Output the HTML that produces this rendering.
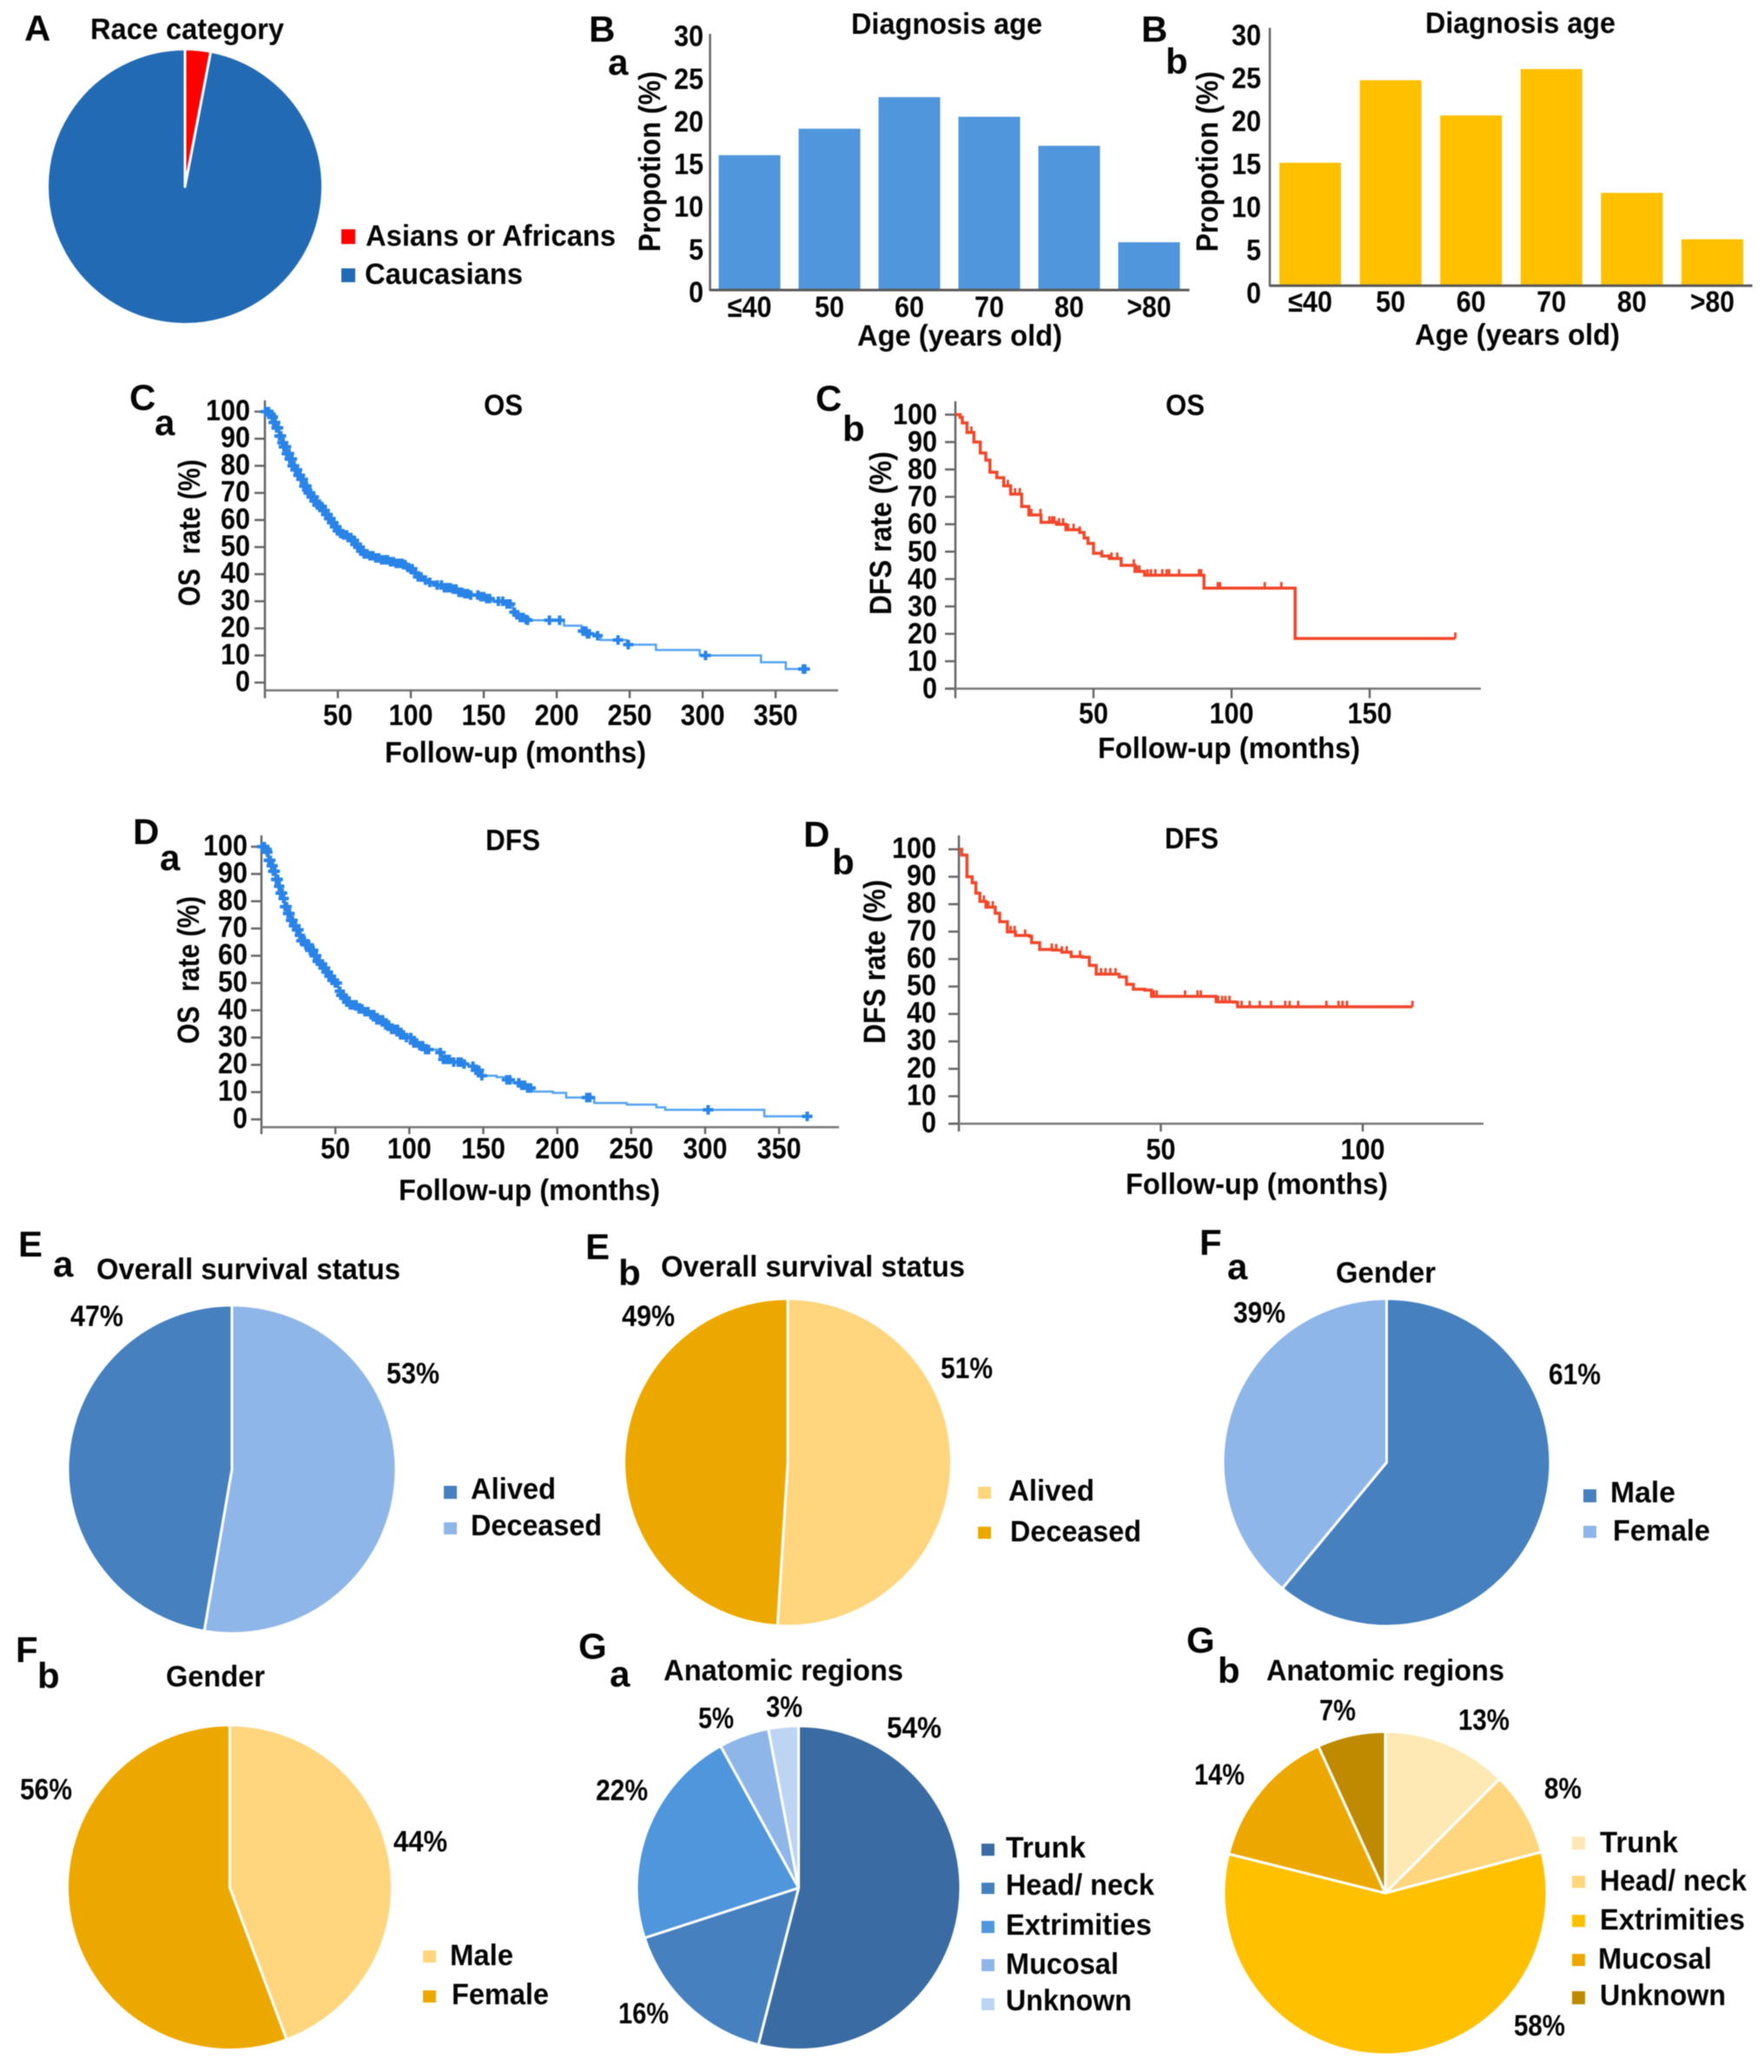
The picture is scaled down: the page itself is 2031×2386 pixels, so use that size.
<!DOCTYPE html>
<html lang="en">
<head>
<meta charset="utf-8">
<title>Clinical characteristics figure</title>
<style>
html,body{margin:0;padding:0;background:#fff;}
svg{display:block;filter:blur(0.6px);}
text{font-family:"Liberation Sans",sans-serif;font-weight:bold;font-size:34px;fill:#050505;}
.p{font-size:42px;}
.r{font-size:35px;}
</style>
</head>
<body>
<svg id="figure" xmlns="http://www.w3.org/2000/svg" width="2031" height="2386" viewBox="0 0 2031 2386">
<rect x="0" y="0" width="2031" height="2386" fill="#ffffff"/>

<g>
<text class="p" x="28" y="47">A</text>
<text class="p" x="678" y="48">B</text>
<text class="p" x="700" y="86">a</text>
<text class="p" x="1314" y="48">B</text>
<text class="p" x="1342" y="85">b</text>
<text class="p" x="149" y="472">C</text>
<text class="p" x="178" y="501">a</text>
<text class="p" x="939" y="473">C</text>
<text class="p" x="970" y="508">b</text>
<text class="p" x="153" y="972">D</text>
<text class="p" x="184" y="1002">a</text>
<text class="p" x="925" y="975">D</text>
<text class="p" x="958" y="1007">b</text>
<text class="p" x="21" y="1447">E</text>
<text class="p" x="61" y="1470">a</text>
<text class="p" x="674" y="1450">E</text>
<text class="p" x="712" y="1480">b</text>
<text class="p" x="1381" y="1445">F</text>
<text class="p" x="1413" y="1473">a</text>
<text class="p" x="18" y="1914">F</text>
<text class="p" x="43" y="1944">b</text>
<text class="p" x="666" y="1910">G</text>
<text class="p" x="702" y="1942">a</text>
<text class="p" x="1366" y="1903">G</text>
<text class="p" x="1402" y="1938">b</text>
</g>

<g>
<text x="104" y="45" textLength="223" lengthAdjust="spacingAndGlyphs">Race category</text>
<text x="980" y="39" textLength="220" lengthAdjust="spacingAndGlyphs">Diagnosis age</text>
<text x="1641" y="38" textLength="219" lengthAdjust="spacingAndGlyphs">Diagnosis age</text>
<text x="557" y="478" textLength="45" lengthAdjust="spacingAndGlyphs">OS</text>
<text x="1342" y="478" textLength="45" lengthAdjust="spacingAndGlyphs">OS</text>
<text x="559" y="979" textLength="63" lengthAdjust="spacingAndGlyphs">DFS</text>
<text x="1341" y="977" textLength="62" lengthAdjust="spacingAndGlyphs">DFS</text>
<text x="111" y="1473" textLength="350" lengthAdjust="spacingAndGlyphs">Overall survival status</text>
<text x="761" y="1470" textLength="350" lengthAdjust="spacingAndGlyphs">Overall survival status</text>
<text x="1538" y="1477" textLength="115" lengthAdjust="spacingAndGlyphs">Gender</text>
<text x="191" y="1942" textLength="114" lengthAdjust="spacingAndGlyphs">Gender</text>
<text x="764" y="1935" textLength="276" lengthAdjust="spacingAndGlyphs">Anatomic regions</text>
<text x="1458" y="1935" textLength="274" lengthAdjust="spacingAndGlyphs">Anatomic regions</text>
</g>

<g>
<text x="987" y="398" textLength="236" lengthAdjust="spacingAndGlyphs">Age (years old)</text>
<text x="1629" y="397" textLength="236" lengthAdjust="spacingAndGlyphs">Age (years old)</text>
<text class="r" transform="translate(760 290) rotate(-90)" textLength="208" lengthAdjust="spacingAndGlyphs">Propotion (%)</text>
<text class="r" transform="translate(1402 290) rotate(-90)" textLength="208" lengthAdjust="spacingAndGlyphs">Propotion (%)</text>
<text x="443" y="878" textLength="301" lengthAdjust="spacingAndGlyphs">Follow-up (months)</text>
<text x="1264" y="873" textLength="302" lengthAdjust="spacingAndGlyphs">Follow-up (months)</text>
<text x="459" y="1382" textLength="301" lengthAdjust="spacingAndGlyphs">Follow-up (months)</text>
<text x="1296" y="1375" textLength="302" lengthAdjust="spacingAndGlyphs">Follow-up (months)</text>
<text class="r" transform="translate(230 698) rotate(-90)" textLength="169" lengthAdjust="spacingAndGlyphs" xml:space="preserve">OS  rate (%)</text>
<text class="r" transform="translate(1026 708) rotate(-90)" textLength="188" lengthAdjust="spacingAndGlyphs">DFS rate (%)</text>
<text class="r" transform="translate(229 1202) rotate(-90)" textLength="170" lengthAdjust="spacingAndGlyphs" xml:space="preserve">OS  rate (%)</text>
<text class="r" transform="translate(1019 1202) rotate(-90)" textLength="189" lengthAdjust="spacingAndGlyphs">DFS rate (%)</text>
</g>

<g>
<text x="81" y="1527" textLength="61" lengthAdjust="spacingAndGlyphs">47%</text>
<text x="445" y="1593" textLength="61" lengthAdjust="spacingAndGlyphs">53%</text>
<text x="716" y="1527" textLength="61" lengthAdjust="spacingAndGlyphs">49%</text>
<text x="1083" y="1587" textLength="60" lengthAdjust="spacingAndGlyphs">51%</text>
<text x="1420" y="1523" textLength="60" lengthAdjust="spacingAndGlyphs">39%</text>
<text x="1783" y="1594" textLength="60" lengthAdjust="spacingAndGlyphs">61%</text>
<text x="23" y="2072" textLength="60" lengthAdjust="spacingAndGlyphs">56%</text>
<text x="453" y="2132" textLength="62" lengthAdjust="spacingAndGlyphs">44%</text>
<text x="804" y="1990" textLength="41" lengthAdjust="spacingAndGlyphs">5%</text>
<text x="882" y="1977" textLength="42" lengthAdjust="spacingAndGlyphs">3%</text>
<text x="686" y="2073" textLength="60" lengthAdjust="spacingAndGlyphs">22%</text>
<text x="712" y="2330" textLength="58" lengthAdjust="spacingAndGlyphs">16%</text>
<text x="1021" y="2001" textLength="63" lengthAdjust="spacingAndGlyphs">54%</text>
<text x="1519" y="1981" textLength="42" lengthAdjust="spacingAndGlyphs">7%</text>
<text x="1679" y="1992" textLength="59" lengthAdjust="spacingAndGlyphs">13%</text>
<text x="1778" y="2071" textLength="43" lengthAdjust="spacingAndGlyphs">8%</text>
<text x="1375" y="2055" textLength="58" lengthAdjust="spacingAndGlyphs">14%</text>
<text x="1743" y="2344" textLength="59" lengthAdjust="spacingAndGlyphs">58%</text>
</g>

<g>
<g>
<rect x="393" y="264" width="16" height="17" fill="#ff0000"/>
<text x="421" y="283" textLength="288" lengthAdjust="spacingAndGlyphs">Asians or Africans</text>
<rect x="393" y="309" width="16" height="16" fill="#236ab5"/>
<text x="420" y="327" textLength="182" lengthAdjust="spacingAndGlyphs">Caucasians</text>
</g>
<g>
<rect x="511" y="1711" width="15" height="15" fill="#4680bf"/>
<text x="542" y="1726" textLength="98" lengthAdjust="spacingAndGlyphs">Alived</text>
<rect x="511" y="1753" width="15" height="14" fill="#8fb6e8"/>
<text x="542" y="1768" textLength="151" lengthAdjust="spacingAndGlyphs">Deceased</text>
</g>
<g>
<rect x="1126" y="1712" width="15" height="14" fill="#ffd57e"/>
<text x="1161" y="1728" textLength="99" lengthAdjust="spacingAndGlyphs">Alived</text>
<rect x="1126" y="1758" width="15" height="14" fill="#eda800"/>
<text x="1163" y="1775" textLength="151" lengthAdjust="spacingAndGlyphs">Deceased</text>
</g>
<g>
<rect x="1823" y="1715" width="15" height="15" fill="#4680bf"/>
<text x="1854" y="1730" textLength="75" lengthAdjust="spacingAndGlyphs">Male</text>
<rect x="1823" y="1757" width="15" height="14" fill="#8fb6e8"/>
<text x="1857" y="1774" textLength="112" lengthAdjust="spacingAndGlyphs">Female</text>
</g>
<g>
<rect x="487" y="2246" width="15" height="14" fill="#ffd57e"/>
<text x="518" y="2263" textLength="73" lengthAdjust="spacingAndGlyphs">Male</text>
<rect x="487" y="2292" width="15" height="14" fill="#eda800"/>
<text x="520" y="2308" textLength="112" lengthAdjust="spacingAndGlyphs">Female</text>
</g>
<g>
<rect x="1130" y="2123" width="15" height="14" fill="#3b6ba3"/>
<text x="1158" y="2139" textLength="92" lengthAdjust="spacingAndGlyphs">Trunk</text>
<rect x="1130" y="2168" width="15" height="13" fill="#4680bf"/>
<text x="1158" y="2182" textLength="171" lengthAdjust="spacingAndGlyphs">Head/ neck</text>
<rect x="1130" y="2212" width="15" height="14" fill="#4f96dc"/>
<text x="1158" y="2228" textLength="168" lengthAdjust="spacingAndGlyphs">Extrimities</text>
<rect x="1130" y="2256" width="15" height="14" fill="#8fb6e8"/>
<text x="1158" y="2273" textLength="130" lengthAdjust="spacingAndGlyphs">Mucosal</text>
<rect x="1130" y="2301" width="15" height="14" fill="#bdd5f3"/>
<text x="1158" y="2315" textLength="145" lengthAdjust="spacingAndGlyphs">Unknown</text>
</g>
<g>
<rect x="1810" y="2115" width="15" height="15" fill="#fee8b4"/>
<text x="1842" y="2133" textLength="90" lengthAdjust="spacingAndGlyphs">Trunk</text>
<rect x="1810" y="2160" width="15" height="14" fill="#ffd57e"/>
<text x="1842" y="2177" textLength="169" lengthAdjust="spacingAndGlyphs">Head/ neck</text>
<rect x="1810" y="2205" width="15" height="14" fill="#ffc000"/>
<text x="1842" y="2222" textLength="167" lengthAdjust="spacingAndGlyphs">Extrimities</text>
<rect x="1810" y="2250" width="15" height="14" fill="#eda800"/>
<text x="1840" y="2267" textLength="131" lengthAdjust="spacingAndGlyphs">Mucosal</text>
<rect x="1810" y="2293" width="15" height="15" fill="#c08a00"/>
<text x="1842" y="2309" textLength="145" lengthAdjust="spacingAndGlyphs">Unknown</text>
</g>
</g>
</svg>

<script>
// ---- Bar chart data ----
const ageCategories = ['≤40','50','60','70','80','>80'];
const ageTicks = [0,5,10,15,20,25,30];
const ageValuesA = [15.8,18.9,22.6,20.3,16.9,5.6];
const ageValuesB = [14.3,23.9,19.8,25.2,10.8,5.4];

// ---- Survival curve data ----
const rateTicks = [0,10,20,30,40,50,60,70,80,90,100];
const monthTicksLong = [50,100,150,200,250,300,350];
const monthTicksCb = [50,100,150];
const monthTicksDb = [50,100];

const caTimes = [0,3,5,6,8,10,12,13,15,17, 19,21,23,25,27,29,30,32,34,36, 38,40,42,44,46,48,50,52,54,57, 60,62,64,66,68,72,76,80,85,90, 95,98,100,102,104,108,112,117,122,128, 132,136,140,148,152,156,164,168,170,172, 175,178,180,205,217,221,227,230,248,268, 298,340,357];
const caRates = [100,99,98,96,94,91,88.5,87,84.5,82.5, 80,78.5,76.5,75,72.5,71,70,68.5,67,65.5, 65,63.5,62,60.5,59,57.5,56,55,54.5,53.5, 52.5,51,50,48.5,47.5,46.8,46,45.3,44.6,44, 43.5,42.5,42,40.5,39,37.8,37,36,35,34.5, 33.3,32.8,32.3,31.7,31,30,29,29,26,25, 24,23.3,23,21,19,18,17.3,15.7,14,12, 10,7.5,5];
const caCensored = [0.5,1,1.5,2,2.5,3,3.5,4,5,5.5,6,6.5,7,8,8.5,9,10,10.5,11,12,12.5,13,14,14.5,15,16,16.5,17,18,18.5,19,20,21,21.5,22,23,24,25,25.5,26,27,28,28.5,29,30,31,32,33,33.5,34,35,36,37,38,39,40,41,42,43,44,45,46,47,48,49,50,51,52,53,54,55,56,57,58,59,60,61,62,63,64,65,66,67,68,69,70,72,74,76,78,80,82,84,86,88,90,92,94,95,96,98,100,101,103,105,107,110,113,118,121,123,125,127,129,131,133,135,137,139,141,146,148,150,152,154,160,163,166,168,171,173,175,177,179,180,195,202,218,219,220,221,222,228,242,249,302,369,370];

const cbTimes = [0,1.7,2.5,4.2,6.7,9,11,12.5,15,17.5,20,24,26.6,31,36.6,40,45,46.6,48,50,53,55.7,60,65,68.5,90,123];
const cbRates = [100,99,97,93.5,90,86,83.4,79,77,74,71,66.5,63.4,60.7,60,58,57,55,53,49.4,48.4,47.5,45,42.8,41.4,36.7,18.3];
const cbCensored = [2.5,5.8,15,17.5,19,21.6,23.3,27.5,30.8,34,35,35.8,37.5,39,40.8,42.8,45,53,56.5,58.6,64.6,65.7,66.6,69.6,70.8,72.4,74.9,76.5,77.4,81,88.2,89,95,95.8,112,118,181];

const daTimes = [0,3,4,5,7,8,10,12,13,15, 16,18,20,22,24,26,27,30,33,36, 38,40,42,44,46,48,50,52,54,56, 58,60,65,70,74,78,83,88,94,98, 103,106,110,119,122,128,136,140,144,148, 159,165,170,175,180,184,197,206,225,247, 267,273,340];
const daRates = [100,99,98,95,93,91,88,85.5,83,81, 78,75.5,73,71,69.5,67.5,65.5,64,62,60, 58,57,55.5,54,52.5,51,50,47,45.5,44.5, 43,42,40.5,39.5,38.4,36.5,34.6,33,31,30, 28,27,25.6,24.5,22,21,20.3,19.5,18,16, 15.5,14.5,13.4,12.5,11.5,10.2,9.7,8,6,5.4, 4.4,3.5,1.1];
const daCensored = [0.5,1,1.5,2,3,3.5,4,5,6,7,7.5,8,9,10,10.5,11,12,13,13.5,14,15,16,17,18,19,20,21,22,23,24,25,26,27,28,29,30,31,32,33,34,35,36,37,38,39,40,41,42,43,44,45,46,47,48,49,50,51,53,54,55,56,57,58,59,60,61,62,64,66,68,70,72,74,76,78,80,82,84,86,88,90,92,94,96,98,101,103,105,107,109,111,113,121,123,125,127,130,133,135,137,143,145,147,149,166,168,174,176,178,180,182,220,222,302,369];

const dbTimes = [0,0.7,2,3.3,4.2,5.2,6.7,9,10.1,12,14,17.5,18,20,23.2,25.5,27.8,30.6,32.3,34,39.7,41.5,43.2,46,47.7,63.7,64.2,68.2,69];
const dbRates = [100,97.9,90,87.8,84,81,78.9,76.7,73.6,69.9,68.6,68.3,66,63.5,63.3,62.5,60.9,60.7,57.7,54.5,53.5,50.8,49,48.7,46.4,44.5,44.4,44.3,42.6];
const dbCensored = [6.2,7.3,8.4,12.8,13.8,16.4,23,24.1,25.5,26.7,27.8,30,35.2,36.3,37.5,38.8,48.3,49,56,59.1,59.9,64.2,65.2,66,67,70,72,74.5,77.3,80.8,81.9,84,91,94,95,96.1,112.3];

// ---- Pie data (clockwise from 12 o'clock) ----
const raceValues = [3,97];
const raceColors = ['#ff0000','#236ab5'];
const survivalAValues = [52.7,47.3];
const survivalAColors = ['#8fb6e8','#4680bf'];
const survivalBValues = [51,49];
const survivalBColors = ['#ffd57e','#eda800'];
const genderAValues = [61,39];
const genderAColors = ['#4680bf','#8fb6e8'];
const genderBValues = [44.3,55.7];
const genderBColors = ['#ffd57e','#eda800'];
const regionsAValues = [54,16,22,5,3];
const regionsAColors = ['#3b6ba3','#4680bf','#4f96dc','#8fb6e8','#bdd5f3'];
const regionsBValues = [12.5,8.4,58,14.3,6.8];
const regionsBColors = ['#fee8b4','#ffd57e','#ffc000','#eda800','#c08a00'];

const SVG_NS = 'http://www.w3.org/2000/svg';
const figure = document.getElementById('figure');

function make(tag, parent, name) {
  const el = document.createElementNS(SVG_NS, tag);
  
  
  parent.appendChild(el);
  return el;
}
function line(parent, name, x1, y1, x2, y2, color, width) {
  const el = make('line', parent, name);
  el.setAttribute('x1', x1);
  el.setAttribute('y1', y1);
  el.setAttribute('x2', x2);
  el.setAttribute('y2', y2);
  el.setAttribute('stroke', color);
  el.setAttribute('stroke-width', width);
  return el;
}
function label(parent, name, str, x, y, anchor) {
  const el = make('text', parent, name);
  el.setAttribute('x', x);
  el.setAttribute('y', y);
  el.setAttribute('text-anchor', anchor);
  el.setAttribute('textLength', str.length * 17);
  el.setAttribute('lengthAdjust', 'spacingAndGlyphs');
  el.textContent = str;
  return el;
}

function drawBars(name, categories, values, cfg) {
  const g = make('g', figure, name);
  const y = v => cfg.y0 - v * cfg.perUnit;
  values.forEach((v, i) => {
    const bar = make('rect', g, 'bar-' + categories[i]);
    bar.setAttribute('x', cfg.x0 + i * cfg.step + cfg.pad);
    bar.setAttribute('y', y(v));
    bar.setAttribute('width', cfg.barWidth);
    bar.setAttribute('height', cfg.y0 - y(v));
    bar.setAttribute('fill', cfg.color);
    label(g, 'x-tick-' + categories[i], categories[i], cfg.x0 + i * cfg.step + cfg.pad + cfg.barWidth / 2, cfg.xLabelY, 'middle');
  });
  ageTicks.forEach(t => {
    label(g, 'y-tick-' + t, String(t), cfg.yLabelX, y(t) + cfg.yLabelOffset + 11, 'end');
  });
  line(g, 'y-axis', cfg.x0, cfg.top, cfg.x0, cfg.y0 + 1, '#666', 2.5);
  line(g, 'x-axis', cfg.x0, cfg.y0, cfg.x0 + categories.length * cfg.step, cfg.y0, '#5a5a5a', 3);
}

function drawCurve(name, times, rates, censored, xTicks, cfg) {
  const g = make('g', figure, name);
  const x = t => cfg.x0 + t * cfg.xPer;
  const y = v => cfg.y0 - v * cfg.yPer;
  const rateAt = t => {
    let r = rates[0];
    times.forEach((k, i) => { if (k <= t) r = rates[i]; });
    return r;
  };
  line(g, 'y-axis', cfg.x0, cfg.top, cfg.x0, cfg.axisY + cfg.xTickLen, '#666', 2.5);
  line(g, 'x-axis', cfg.x0 - cfg.axisLeft, cfg.axisY, cfg.right, cfg.axisY, '#777', 2.5);
  rateTicks.forEach(t => {
    line(g, 'y-tick-mark-' + t, cfg.x0 - 12, y(t), cfg.x0, y(t), '#666', 2.5);
    label(g, 'y-tick-' + t, String(t), cfg.yLabelX, y(t) + 11 + cfg.yLabelOffset, 'end');
  });
  xTicks.forEach(t => {
    line(g, 'x-tick-mark-' + t, x(t), cfg.axisY, x(t), cfg.axisY + cfg.xTickLen, '#666', 2.5);
    label(g, 'x-tick-' + t, String(t), x(t), cfg.xLabelY, 'middle');
  });
  const lastT = censored[censored.length - 1];
  let d = 'M' + x(times[0]) + ' ' + y(rates[0]);
  times.forEach((t, i) => {
    d += 'H' + x(t) + 'V' + y(rates[i]);
  });
  d += 'H' + x(lastT);
  const path = make('path', g, 'survival-curve');
  path.setAttribute('d', d);
  path.setAttribute('fill', 'none');
  path.setAttribute('stroke', cfg.lineColor);
  path.setAttribute('stroke-width', cfg.lineWidth);
  censored.forEach(t => {
    const cx = x(t);
    const cy = y(rateAt(t));
    if (cfg.style === 'plus') {
      line(g, 'censor-h', cx - 6, cy, cx + 6, cy, cfg.markColor, 4);
      line(g, 'censor-v', cx, cy - 5.5, cx, cy + 5.5, cfg.markColor, 4);
    } else {
      line(g, 'censor-tick', cx, cy - 7, cx, cy, cfg.markColor, 2.8);
    }
  });
}

function drawPie(name, values, colors, cx, cy, r) {
  const g = make('g', figure, name);
  const total = values.reduce((a, b) => a + b, 0);
  let start = 0;
  values.forEach((v, i) => {
    const a0 = start / total * 2 * Math.PI;
    const a1 = (start + v) / total * 2 * Math.PI;
    const large = (a1 - a0) > Math.PI ? 1 : 0;
    const slice = make('path', g, 'slice-' + i);
    slice.setAttribute('d', 'M' + cx + ' ' + cy +
      'L' + (cx + r * Math.sin(a0)) + ' ' + (cy - r * Math.cos(a0)) +
      'A' + r + ' ' + r + ' 0 ' + large + ' 1 ' + (cx + r * Math.sin(a1)) + ' ' + (cy - r * Math.cos(a1)) + 'Z');
    slice.setAttribute('fill', colors[i]);
    slice.setAttribute('stroke', '#ffffff');
    slice.setAttribute('stroke-width', 3);
    slice.setAttribute('stroke-linejoin', 'round');
    start += v;
  });
}

drawBars('age-chart-a', ageCategories, ageValuesA, {x0:817.5, y0:334, top:39, perUnit:9.83, step:92, pad:10, barWidth:71, color:'#4f96dc', yLabelX:810, yLabelOffset:3, xLabelY:365});
drawBars('age-chart-b', ageCategories, ageValuesB, {x0:1462, y0:329, top:32, perUnit:9.9, step:92.6, pad:11, barWidth:71, color:'#ffc000', yLabelX:1452, yLabelOffset:9, xLabelY:359});

drawCurve('os-curve-a', caTimes, caRates, caCensored, monthTicksLong, {x0:305, xPer:1.68, y0:786, yPer:3.12, axisY:795, top:461, right:965, axisLeft:0, xTickLen:9, yLabelX:288, yLabelOffset:-1, xLabelY:835, lineColor:'#55a3f2', lineWidth:2.5, markColor:'#2a84e8', style:'plus'});
drawCurve('os-curve-b', cbTimes, cbRates, cbCensored, monthTicksCb, {x0:1100, xPer:3.18, y0:793, yPer:3.155, axisY:793, top:462, right:1705, axisLeft:12, xTickLen:11, yLabelX:1079, yLabelOffset:0, xLabelY:833, lineColor:'#f2472a', lineWidth:3.5, markColor:'#f2472a', style:'tick'});
drawCurve('dfs-curve-a', daTimes, daRates, daCensored, monthTicksLong, {x0:301, xPer:1.703, y0:1289, yPer:3.14, axisY:1298, top:962, right:966, axisLeft:0, xTickLen:8, yLabelX:285, yLabelOffset:-1, xLabelY:1334, lineColor:'#55a3f2', lineWidth:2.5, markColor:'#2a84e8', style:'plus'});
drawCurve('dfs-curve-b', dbTimes, dbRates, dbCensored, monthTicksDb, {x0:1104, xPer:4.65, y0:1294, yPer:3.16, axisY:1294, top:962, right:1708, axisLeft:12, xTickLen:9, yLabelX:1078, yLabelOffset:-1, xLabelY:1335, lineColor:'#f2472a', lineWidth:3.5, markColor:'#f2472a', style:'tick'});

drawPie('race-pie', raceValues, raceColors, 213, 215, 158.5);
drawPie('survival-pie-a', survivalAValues, survivalAColors, 267, 1692, 189);
drawPie('survival-pie-b', survivalBValues, survivalBColors, 907, 1684, 188.5);
drawPie('gender-pie-a', genderAValues, genderAColors, 1596.5, 1684, 188.5);
drawPie('gender-pie-b', genderBValues, genderBColors, 264.5, 2173.5, 187);
drawPie('regions-pie-a', regionsAValues, regionsAColors, 919.5, 2174, 186.5);
drawPie('regions-pie-b', regionsBValues, regionsBColors, 1595, 2180, 186);
</script>
</body>
</html>
